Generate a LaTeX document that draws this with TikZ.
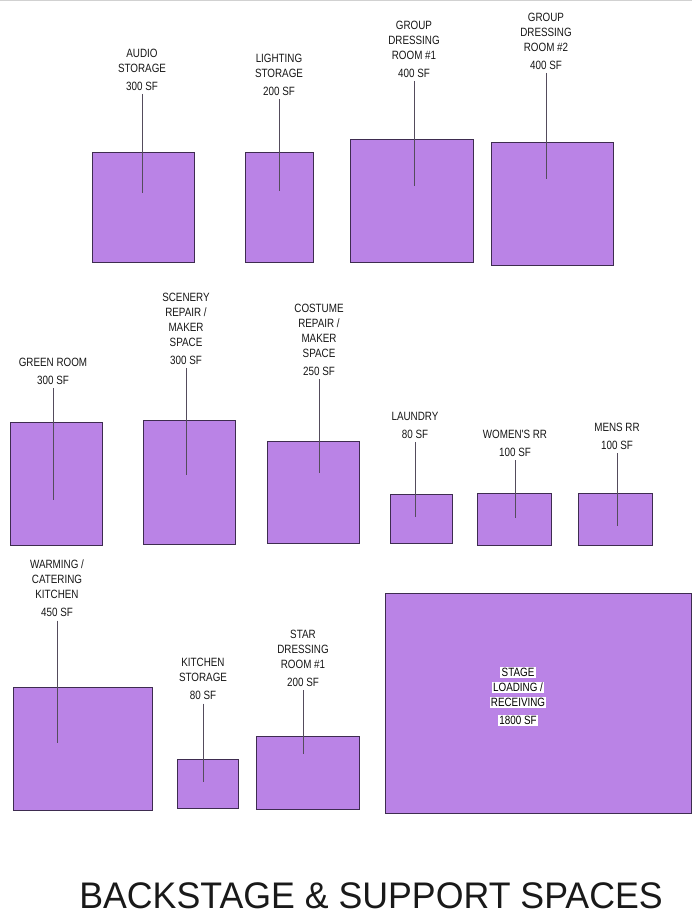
\documentclass[tikz,border=0pt]{standalone}
\usepackage{fontspec}
\usepackage{xcolor}
\newfontfamily\roomfont[FakeStretch=0.82]{Liberation Sans}
\newfontfamily\titlefont[FakeStretch=0.965]{Liberation Sans}
\usetikzlibrary{positioning}
\definecolor{roomfill}{RGB}{186,131,230}
\definecolor{roomedge}{RGB}{62,44,80}
\definecolor{leadgray}{RGB}{84,76,92}
\definecolor{txtgray}{RGB}{22,22,22}
\newcommand{\whitebg}[1]{{\setlength{\fboxsep}{1.2pt}\colorbox{white}{#1}}}
\tikzset{
  px/.style={x=1pt, y=-1pt},
  r box/.style={draw=roomedge, fill=roomfill, line width=0.9pt, anchor=north west, inner sep=0pt, outer sep=0pt},
  r label/.style={anchor=south, inner sep=0pt, align=center, text=txtgray, font=\roomfont\fontsize{12}{15}\selectfont},
  r lead/.style={draw=leadgray, line width=1pt, shorten <=3.5pt},
  r title/.style={anchor=base, inner sep=0pt, text=black!90, font=\titlefont\fontsize{37}{44}\selectfont},
  r edge/.style={draw=black!18, line width=0.8pt},
}
\begin{document}
\begin{tikzpicture}[px]
\useasboundingbox (0,0) rectangle (692,923);
\draw[r edge] (0,0.6) -- (692,0.6);
% top row
\node[r box, minimum width=102pt, minimum height=110pt] (audio) at (92,152) {};
\node[r label] (audio l) at (142,90.5) {AUDIO\\STORAGE\\[2.5pt]300 SF};
\coordinate (audio e) at (142,193);
\node[r box, minimum width=68pt, minimum height=110pt] (light) at (245,152) {};
\node[r label] (light l) at (279,95.5) {LIGHTING\\STORAGE\\[3pt]200 SF};
\coordinate (light e) at (279,191);
\node[r box, minimum width=123pt, minimum height=123pt] (grp1) at (350,139) {};
\node[r label] (grp1 l) at (414,77.5) {GROUP\\DRESSING\\ROOM \#1\\[3pt]400 SF};
\coordinate (grp1 e) at (414,186);
\node[r box, minimum width=122pt, minimum height=123pt] (grp2) at (491,142) {};
\node[r label] (grp2 l) at (546,69.5) {GROUP\\DRESSING\\ROOM \#2\\[3pt]400 SF};
\coordinate (grp2 e) at (546,179);
\draw[r lead] (audio l.south) -- (audio e); \draw[r lead] (light l.south) -- (light e);
\draw[r lead] (grp1 l.south) -- (grp1 e); \draw[r lead] (grp2 l.south) -- (grp2 e);
% middle row
\node[r box, minimum width=92pt, minimum height=123pt] (green) at (10,422) {};
\node[r label] (green l) at (53,384.5) {GREEN ROOM\\[3pt]300 SF};
\coordinate (green e) at (53,500);
\node[r box, minimum width=92pt, minimum height=124pt] (scen) at (143,420) {};
\node[r label] (scen l) at (186,364.5) {SCENERY\\REPAIR /\\MAKER\\SPACE\\[3pt]300 SF};
\coordinate (scen e) at (186,475);
\node[r box, minimum width=92pt, minimum height=102pt] (cost) at (267,441) {};
\node[r label] (cost l) at (319,375.5) {COSTUME\\REPAIR /\\MAKER\\SPACE\\[2.5pt]250 SF};
\coordinate (cost e) at (319,473);
\node[r box, minimum width=62pt, minimum height=49pt] (laund) at (390,494) {};
\node[r label] (laund l) at (415,438.5) {LAUNDRY\\[2.5pt]80 SF};
\coordinate (laund e) at (415,517);
\node[r box, minimum width=74pt, minimum height=52pt] (women) at (477,493) {};
\node[r label] (women l) at (515,456.5) {WOMEN'S RR\\[3pt]100 SF};
\coordinate (women e) at (515,518);
\node[r box, minimum width=74pt, minimum height=52pt] (mens) at (578,493) {};
\node[r label] (mens l) at (617,449.5) {MENS RR\\[3pt]100 SF};
\coordinate (mens e) at (617,526);
\draw[r lead] (green l.south) -- (green e); \draw[r lead] (scen l.south) -- (scen e);
\draw[r lead] (cost l.south) -- (cost e); \draw[r lead] (laund l.south) -- (laund e);
\draw[r lead] (women l.south) -- (women e); \draw[r lead] (mens l.south) -- (mens e);
% bottom row
\node[r box, minimum width=139pt, minimum height=123pt] (warm) at (13,687) {};
\node[r label] (warm l) at (57,617) {WARMING /\\CATERING\\KITCHEN\\[3pt]450 SF};
\coordinate (warm e) at (57,743);
\node[r box, minimum width=61pt, minimum height=49pt] (kstor) at (177,759) {};
\node[r label] (kstor l) at (203,700) {KITCHEN\\STORAGE\\[3pt]80 SF};
\coordinate (kstor e) at (203,782);
\node[r box, minimum width=103pt, minimum height=73pt] (star) at (256,736) {};
\node[r label] (star l) at (303,686.8) {STAR\\DRESSING\\ROOM \#1\\[3pt]200 SF};
\coordinate (star e) at (303,754);
\draw[r lead] (warm l.south) -- (warm e); \draw[r lead] (kstor l.south) -- (kstor e);
\draw[r lead] (star l.south) -- (star e);
\node[r box, minimum width=306.5pt, minimum height=220pt] (stage) at (385,593) {};
\node[r label, text=black] (stage l) at (518,726.4) {\whitebg{STAGE}\\\whitebg{LOADING /}\\\whitebg{RECEIVING}\\[3pt]\whitebg{1800 SF}};
\node[r title] (title) at (371,908.3) {BACKSTAGE \& SUPPORT SPACES};
\end{tikzpicture}
\end{document}
